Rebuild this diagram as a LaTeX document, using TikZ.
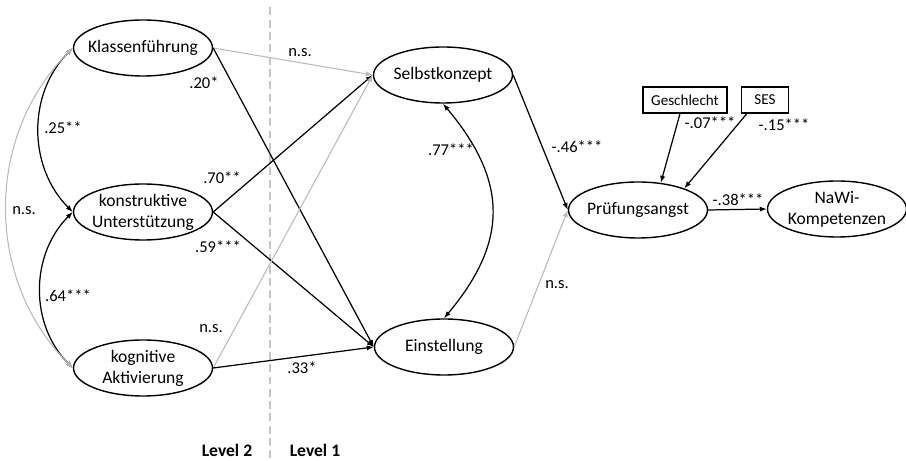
\documentclass[tikz,border=0pt]{standalone}
\usepackage{fontspec}
\setmainfont{Carlito}
\usetikzlibrary{arrows.meta,shapes.geometric}
\begin{document}
\begin{tikzpicture}[
        konstrukt/.style={ellipse,draw,line width=0.8pt,minimum width=2.78cm,minimum height=1.12cm,inner xsep=-0.4cm,inner ysep=-0.2cm,align=center,font=\fontsize{10}{12}\selectfont},
        kasten/.style={draw,line width=0.8pt,minimum height=0.52cm,inner xsep=1pt,font=\fontsize{8.6}{10}\selectfont},
        pfad/.style={-{Latex[length=4pt,width=3pt]},line width=0.7pt},
        ns/.style={pfad,gray!55,line width=0.6pt},
        kov/.style={{Latex[length=4pt,width=3pt]}-{Latex[length=4pt,width=3pt]},line width=0.7pt},
        wert/.style={font=\fontsize{9.4}{11}\selectfont}
    ]
            \useasboundingbox (0,0) rectangle (18.12,-9.22);
            \draw[gray!45, line width=1.1pt, dash pattern=on 4.5pt off 2.5pt] (5.4,-0.15) -- (5.4,-9.22);
            \node[font=\fontsize{10}{12}\selectfont\bfseries] (lv2) at (4.54,-9.0) {Level 2};
            \node[font=\fontsize{10}{12}\selectfont\bfseries] (lv1) at (6.3,-9.0) {Level 1};

            % Level 2
            \node[konstrukt] (kf) at (2.86,-0.96) {Klassenführung};
            \node[konstrukt] (ku) at (2.86,-4.24) {konstruktive\\Unterstützung};
            \node[konstrukt] (ka) at (2.86,-7.36) {kognitive\\Aktivierung};

            % Level 1
            \node[konstrukt] (sk) at (8.86,-1.5) {Selbstkonzept};
            \node[konstrukt] (ei) at (8.88,-6.94) {Einstellung};
            \node[konstrukt] (pa) at (12.76,-4.2) {Prüfungsangst};
            \node[konstrukt] (nw) at (16.74,-4.18) {NaWi-\\Kompetenzen};
            \node[kasten, minimum width=1.68cm] (gs) at (13.7,-2.0) {Geschlecht};
            \node[kasten, minimum width=0.94cm] (ses) at (15.3,-2.0) {SES};

            \draw[ns] (kf.east) -- (sk.west);
            \draw[pfad] (kf.east) -- (ei.west);
            \draw[pfad] (ku.east) -- (sk.west);
            \draw[pfad] (ku.east) -- (ei.west);
            \draw[ns] (ka.east) -- (sk.west);
            \draw[pfad] (ka.east) -- (ei.west);
            \draw[pfad] (sk.east) -- (pa.west);
            \draw[ns] (ei.east) -- (pa.west);
            \draw[pfad] ([xshift=-0.1cm]gs.south) -- (pa.50);
            \draw[pfad] ([xshift=0.12cm]ses.south west) -- (pa.25);
            \draw[pfad] (pa.east) -- (nw.west);

            \draw[kov] (kf.west) to[out=225,in=135] (ku.west);
            \draw[kov] (ku.west) to[out=225,in=135] (ka.west);
            \draw[kov, gray!55, line width=0.6pt] (kf.west) to[out=225,in=135] (ka.west);
            \draw[kov] (sk.south) to[out=-50,in=50,looseness=1.2] (ei.north);

            \node[wert] (w1) at (6.0,-1.06) {n.s.};
            \node[wert] (w2) at (4.08,-1.66) {.20*};
            \node[wert] (w3) at (1.26,-2.56) {.25**};
            \node[wert] (w4) at (4.44,-3.56) {.70**};
            \node[wert] (w5) at (0.48,-4.22) {n.s.};
            \node[wert] (w6) at (4.36,-4.94) {.59***};
            \node[wert] (w7) at (1.36,-5.92) {.64***};
            \node[wert] (w8) at (4.22,-6.58) {n.s.};
            \node[wert] (w9) at (6.04,-7.36) {.33*};
            \node[wert] (w10) at (9.02,-3.0) {.77***};
            \node[wert] (w11) at (11.54,-2.94) {-.46***};
            \node[wert] (w12) at (11.14,-5.7) {n.s.};
            \node[wert] (w13) at (14.2,-2.46) {-.07***};
            \node[wert] (w14) at (15.68,-2.5) {-.15***};
            \node[wert] (w15) at (14.76,-4.0) {-.38***};
\end{tikzpicture}
\end{document}
